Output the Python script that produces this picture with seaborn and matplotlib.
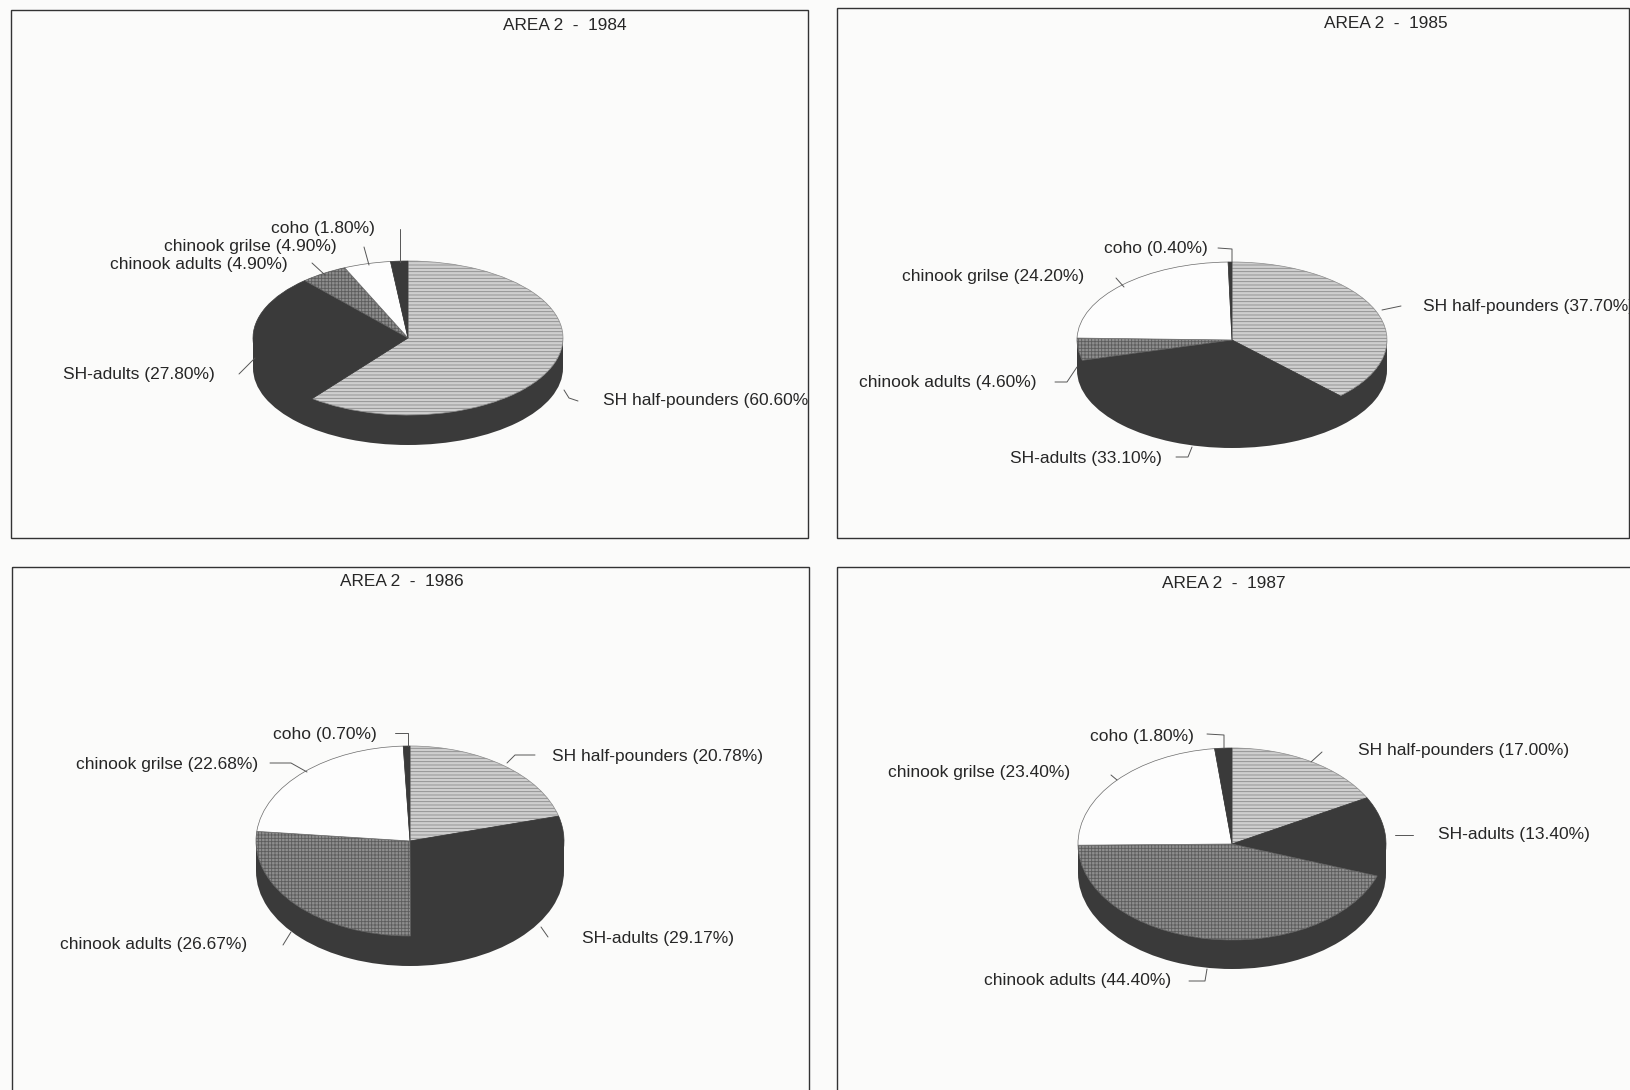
import matplotlib
matplotlib.use("Agg")
import matplotlib.pyplot as plt
import matplotlib.patches as patches
import numpy as np
import seaborn as sns

sns.set_theme(style="white")
plt.rcParams["font.family"] = ["Liberation Sans", "DejaVu Sans"]
plt.rcParams["hatch.linewidth"] = 0.6

W, H = 1631, 1090

species = ["SH half-pounders", "SH-adults", "chinook adults", "chinook grilse", "coho"]
years = [1984, 1985, 1986, 1987]
share_1984 = [60.60, 27.80, 4.90, 4.90, 1.80]
share_1985 = [37.70, 33.10, 4.60, 24.20, 0.40]
share_1986 = [20.78, 29.17, 26.67, 22.68, 0.70]
share_1987 = [17.00, 13.40, 44.40, 23.40, 1.80]
shares = [share_1984, share_1985, share_1986, share_1987]

dark = "#3a3a3a"
ink = "#262626"
fills = ["#cfcfcf", dark, "#8e8e8e", "#fdfdfd", dark]
hatches = ["-----", None, "+++++", None, None]
hatch_colors = ["#8a8a8a", dark, "#5c5c5c", "#6a6a6a", dark]

# layout in pixels of the page
frames = [(11, 10, 808, 538), (837, 8, 1629, 538), (12, 567, 809, 1095), (837, 567, 1635, 1095)]
title_pos = [(565, 26), (1386, 24), (402, 582), (1224, 584)]
pies = [(408, 338, 155, 77, 30), (1232, 340, 155, 78, 30), (410, 841, 154, 95, 30), (1232, 844, 154, 96, 29)]

# (anchor x, y, align) per species, same order as the species list
label_pos = [
    [(603, 400, "left"), (215, 374, "right"), (288, 264, "right"), (337, 247, "right"), (375, 229, "right")],
    [(1423, 306, "left"), (1162, 458, "right"), (1037, 382, "right"), (1084, 276, "right"), (1208, 249, "right")],
    [(552, 756, "left"), (582, 938, "left"), (247, 945, "right"), (258, 764, "right"), (377, 734, "right")],
    [(1358, 751, "left"), (1438, 835, "left"), (1171, 980, "right"), (1070, 773, "right"), (1194, 736, "right")],
]
leaders = [
    [[(578, 401), (569, 398), (564, 390)], [(239, 374), (255, 358)], [(312, 263), (325, 275)], [(364, 247), (369, 265)], [(400, 229), (400, 262)]],
    [[(1401, 306), (1382, 310)], [(1176, 457), (1188, 457), (1192, 447)], [(1055, 382), (1067, 382), (1077, 367)], [(1116, 278), (1124, 287)], [(1218, 248), (1232, 249), (1232, 262)]],
    [[(535, 755), (515, 755), (507, 763)], [(548, 937), (541, 927)], [(283, 945), (291, 932)], [(270, 763), (291, 763), (307, 772)], [(395, 733), (408, 733), (408, 746)]],
    [[(1322, 752), (1311, 762)], [(1395, 835), (1413, 835)], [(1189, 981), (1205, 981), (1207, 969)], [(1111, 775), (1117, 780)], [(1207, 734), (1224, 735), (1224, 748)]],
]

fig = plt.figure(figsize=(W / 100, H / 100), dpi=100, facecolor="#fbfbfa")


def add_pie(box, values):
    cx, cy, rx, ry, depth = box
    ax = fig.add_axes([(cx - rx) / W, 1 - (cy + ry + depth) / H, 2 * rx / W, (2 * ry + depth) / H])
    drop = depth / ry
    # side wall of the disc
    ax.pie([1], colors=[dark], center=(0, -drop), radius=1, wedgeprops={"linewidth": 0, "clip_on": False})
    ax.fill_between([-1, 1], -drop, 0, color=dark, linewidth=0)
    wedges, _ = ax.pie(values, colors=fills, startangle=90, counterclock=False,
                       wedgeprops={"linewidth": 0, "clip_on": False})
    for wedge, hatch, col in zip(wedges, hatches, hatch_colors):
        wedge.set_edgecolor(col)
        wedge.set_linewidth(0.5)
        if hatch:
            wedge.set_hatch(hatch)
    ax.set_aspect("auto")
    ax.set_xlim(-1, 1)
    ax.set_ylim(-1 - drop, 1)
    ax.patch.set_alpha(0)


for box, values in zip(pies, shares):
    add_pie(box, values)

page = fig.add_axes([0, 0, 1, 1], zorder=5)
page.set_xlim(0, W)
page.set_ylim(H, 0)
page.axis("off")

for i, year in enumerate(years):
    x0, y0, x1, y1 = frames[i]
    rect = patches.Rectangle((x0, y0), x1 - x0, y1 - y0, fill=False, edgecolor="#333333", linewidth=1.0)
    page.add_patch(rect)
    page.text(title_pos[i][0], title_pos[i][1], f"AREA 2  -  {year}", ha="center", va="center", fontsize=12.4, color=ink)

    for j, name in enumerate(species):
        x, y, align = label_pos[i][j]
        t = page.text(x, y, f"{name} ({shares[i][j]:.2f}%)", ha=align, va="center", fontsize=12.5, color=ink)
        t.set_clip_path(rect)
        t.set_clip_on(True)
        pts = np.array(leaders[i][j])
        page.plot(pts[:, 0], pts[:, 1], color="#555555", linewidth=0.7)

fig.savefig("out.png", dpi=100, facecolor=fig.get_facecolor())
